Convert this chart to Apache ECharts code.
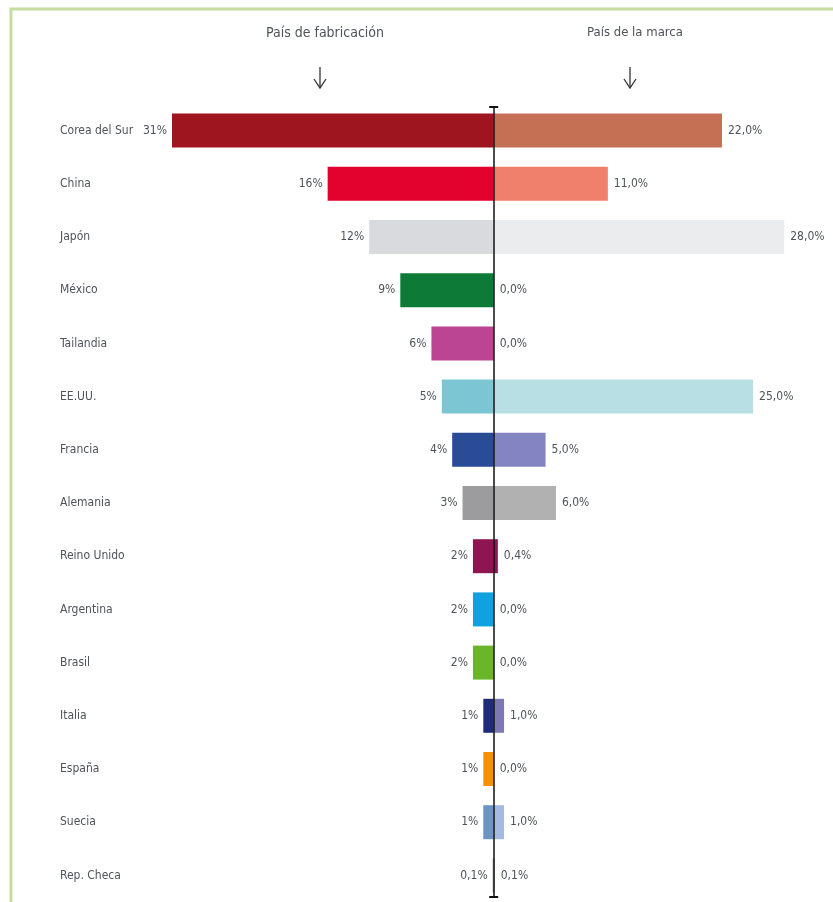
<!DOCTYPE html>
<html>
<head>
<meta charset="utf-8">
<script src="https://cdn.jsdelivr.net/npm/echarts@6/dist/echarts.min.js"></script>
<style>
  html, body { margin: 0; padding: 0; background: #fff; }
  #chart { width: 833px; height: 902px; }
</style>
</head>
<body>
<div id="chart"></div>
<script>
// países
const countries = ['Corea del Sur', 'China', 'Japón', 'México', 'Tailandia', 'EE.UU.', 'Francia',
  'Alemania', 'Reino Unido', 'Argentina', 'Brasil', 'Italia', 'España', 'Suecia', 'Rep. Checa'];

// País de fabricación (%)
const fabricacion = [31, 16, 12, 9, 6, 5, 4, 3, 2, 2, 2, 1, 1, 1, 0.1];
// País de la marca (%)
const marca = [22, 11, 28, 0, 0, 25, 5, 6, 0.4, 0, 0, 1, 0, 1, 0.1];

const fabColors = ['#9e1520', '#e3022d', '#d8dadd', '#0d7b37', '#bb4593', '#7cc6d4', '#2a4b95',
  '#9c9c9e', '#8e1552', '#0ea3df', '#6bb52b', '#1f2b7a', '#f39200', '#6b93c4', '#999999'];
const marcaColors = ['#c56f55', '#f0806c', '#eaeced', '#cccccc', '#cccccc', '#b8e0e4', '#8584c3',
  '#b1b1b1', '#8e1552', '#cccccc', '#cccccc', '#7d78b3', '#cccccc', '#a5b9e2', '#aaaaaa'];

const FONT = "'Liberation Sans Narrow', 'DejaVu Sans Condensed', 'Roboto Condensed', sans-serif";
const TXT = '#4f5358';

const chart = echarts.init(document.getElementById('chart'));

const option = {
  backgroundColor: '#fff',
  animation: false,
  textStyle: { fontFamily: FONT },
  title: [
    { text: 'País de fabricación', left: 320, top: 21, textAlign: 'center',
      textStyle: { fontFamily: FONT, fontSize: 14, fontWeight: 'normal', color: TXT } },
    { text: 'País de la marca', left: 630, top: 21, textAlign: 'center',
      textStyle: { fontFamily: FONT, fontSize: 13, fontWeight: 'normal', color: TXT } }
  ],
  grid: { left: 172, right: 28, top: 104, height: 800, containLabel: false },
  xAxis: {
    type: 'value', min: -31, max: 30, show: false
  },
  yAxis: {
    type: 'category',
    data: countries,
    inverse: true,
    axisLine: { show: false, onZero: false },
    axisTick: { show: false },
    splitLine: { show: false },
    axisLabel: {
      align: 'left', margin: 112,
      fontFamily: FONT, fontSize: 12, color: TXT
    }
  },
  series: [
    {
      name: 'País de fabricación',
      type: 'bar',
      barWidth: 34,
      barGap: '-100%',
      data: fabricacion.map((v, i) => ({ value: -v, itemStyle: { color: fabColors[i] } })),
      label: {
        show: true, position: 'left', distance: 5,
        fontFamily: FONT, fontSize: 12, color: TXT,
        formatter: p => {
          const v = -p.value;
          return (v < 1 ? v.toFixed(1).replace('.', ',') : v) + '%';
        }
      },
      markLine: {
        silent: true,
        symbol: ['rect', 'rect'],
        symbolSize: [9, 2],
        lineStyle: { color: '#111', width: 1.5, type: 'solid' },
        label: { show: false },
        data: [[{ coord: [0, 0], y: 107 }, { coord: [0, 0], y: 897 }]]
      }
    },
    {
      name: 'País de la marca',
      type: 'bar',
      barWidth: 34,
      data: marca.map((v, i) => ({ value: v, itemStyle: { color: marcaColors[i] } })),
      label: {
        show: true, position: 'right', distance: 6,
        fontFamily: FONT, fontSize: 12, color: TXT,
        formatter: p => p.value.toFixed(1).replace('.', ',') + '%'
      }
    }
  ],
  graphic: [
    { type: 'polyline', shape: { points: [[11, 902], [11, 9], [833, 9]] },
      style: { stroke: '#c5dca0', lineWidth: 3, fill: null } },
    { type: 'line', shape: { x1: 320, y1: 67, x2: 320, y2: 88 }, style: { stroke: '#333', lineWidth: 1.3 } },
    { type: 'polyline', shape: { points: [[314, 79], [320, 88], [326, 79]] }, style: { stroke: '#333', lineWidth: 1.3, fill: null } },
    { type: 'line', shape: { x1: 630, y1: 67, x2: 630, y2: 88 }, style: { stroke: '#333', lineWidth: 1.3 } },
    { type: 'polyline', shape: { points: [[624, 79], [630, 88], [636, 79]] }, style: { stroke: '#333', lineWidth: 1.3, fill: null } }
  ]
};

chart.setOption(option);
</script>
</body>
</html>
